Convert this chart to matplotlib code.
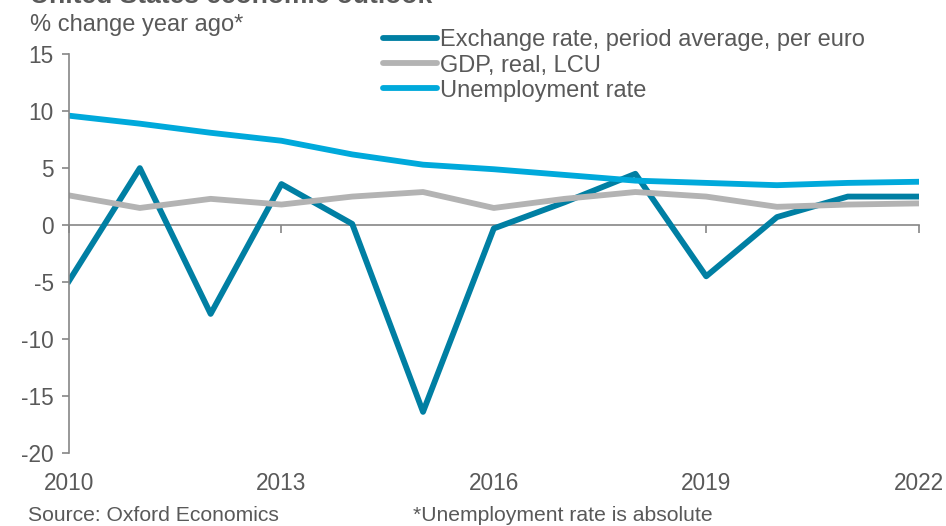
import matplotlib
matplotlib.use('Agg')
import matplotlib.pyplot as plt

years = list(range(2010, 2023))
exchange = [-4.9, 5.0, -7.8, 3.6, 0.1, -16.4, -0.3, 2.0, 4.5, -4.5, 0.7, 2.5, 2.5]
gdp = [2.6, 1.5, 2.3, 1.8, 2.5, 2.9, 1.5, 2.3, 2.9, 2.5, 1.6, 1.8, 1.9]
unemployment = [9.6, 8.9, 8.1, 7.4, 6.2, 5.3, 4.9, 4.4, 3.9, 3.7, 3.5, 3.7, 3.8]
xticks = [2010, 2013, 2016, 2019, 2022]
yticks = [-20, -15, -10, -5, 0, 5, 10, 15]

TXT = '#595959'
AX = '#868686'
FS = 16.3

plt.rcParams['font.family'] = ['Liberation Sans', 'DejaVu Sans']

fig = plt.figure(figsize=(9.46, 5.26), dpi=100)
ax = fig.add_axes([0.073, 0.139, 0.898, 0.758])

ax.plot(years, exchange, color='#007FA3', linewidth=4.2,
        label='Exchange rate, period average, per euro')
ax.plot(years, gdp, color='#B3B3B3', linewidth=4.2,
        label='GDP, real, LCU')
ax.plot(years, unemployment, color='#00A9DB', linewidth=4.2,
        label='Unemployment rate')

ax.set_xlim(2010, 2022)
ax.set_ylim(-20, 15)
ax.set_yticks(yticks)
ax.set_yticklabels([str(v) for v in yticks])
ax.set_xticks(xticks)
ax.set_xticklabels([str(v) for v in xticks])

for s in ['top', 'right', 'bottom']:
    ax.spines[s].set_visible(False)
ax.spines['left'].set_color(AX)
ax.spines['left'].set_linewidth(1.2)
ax.tick_params(axis='y', direction='out', length=5, width=1.2, color=AX,
               labelsize=FS, labelcolor=TXT, pad=6)
ax.tick_params(axis='x', length=0, labelsize=FS, labelcolor=TXT, pad=14)

# zero line carrying the year ticks
sec = ax.secondary_xaxis(0, transform=ax.transData)
sec.set_xticks(xticks)
sec.tick_params(axis='x', direction='out', length=6, width=1.2, color=AX,
                labelbottom=False)
sec.spines['bottom'].set_color(AX)
sec.spines['bottom'].set_linewidth(1.2)

leg = ax.legend(loc='upper left', bbox_to_anchor=(0.369, 1.062), frameon=False,
                fontsize=17, handlelength=2.3, handletextpad=0.12,
                labelspacing=0.13, borderpad=0, borderaxespad=0)
for t in leg.get_texts():
    t.set_color(TXT)
for h in leg.get_lines():
    h.set_solid_capstyle('round')

fig.text(0.032, 1.008, 'United States economic outlook', fontsize=19,
         fontweight='bold', color=TXT, ha='left', va='center')
fig.text(0.032, 0.952, '% change year ago*', fontsize=17, color=TXT,
         ha='left', va='center')
fig.text(0.03, 0.02, 'Source: Oxford Economics', fontsize=15.2, color=TXT,
         ha='left', va='center')
fig.text(0.437, 0.02, '*Unemployment rate is absolute', fontsize=15.2,
         color=TXT, ha='left', va='center')

fig.savefig('out.png', dpi=100)
